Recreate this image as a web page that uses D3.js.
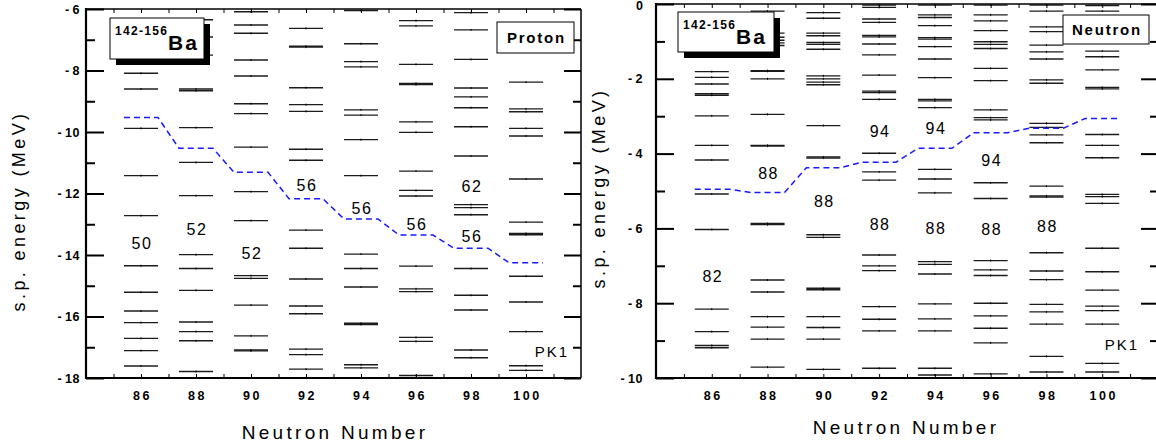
<!DOCTYPE html>
<html><head><meta charset="utf-8">
<script src="https://cdn.jsdelivr.net/npm/d3@7"></script>
<style>
body{margin:0;background:#fff}
svg{display:block}
text{font-family:"Liberation Sans",Arial,Helvetica,sans-serif;fill:#000}
</style>
</head><body>
<svg id="chart" width="1156" height="446"></svg>
<script>
// ---------------- data ----------------
const neutronNumbers = [86, 88, 90, 92, 94, 96, 98, 100];
const xTickLabels = ["86", "88", "90", "92", "94", "96", "98", "100"];
const protonYTicks = [-18, -16, -14, -12, -10, -8, -6];
const neutronYTicks = [-10, -8, -6, -4, -2, 0];

// proton single-particle levels (MeV), one list per neutron number
const protonLevels = [
  [-8.09, -8.60, -9.88, -11.42, -12.72, -14.35, -15.21, -15.82, -16.20, -16.71, -17.11, -17.61],
  [-6.35, -6.91, -7.50, -8.60, -8.66, -9.86, -10.99, -12.07, -13.99, -14.44, -15.15, -16.18, -16.49, -16.79, -17.79],
  [-6.09, -6.52, -6.79, -7.66, -8.18, -9.08, -9.40, -10.49, -11.94, -12.88, -14.67, -14.76, -15.63, -16.63, -17.09, -17.12],
  [-6.63, -7.21, -7.24, -8.56, -9.11, -9.33, -10.56, -10.92, -13.19, -13.78, -14.78, -15.66, -15.91, -17.06, -17.24, -17.71],
  [-6.05, -7.13, -7.71, -7.88, -9.28, -9.45, -10.25, -11.42, -13.97, -14.44, -15.04, -16.22, -16.26, -17.57, -17.67],
  [-6.38, -6.55, -7.80, -8.42, -8.46, -9.67, -10.01, -11.27, -11.90, -12.08, -14.36, -15.10, -15.19, -16.68, -16.81, -17.92],
  [-6.12, -6.68, -7.64, -8.57, -8.86, -9.21, -9.83, -10.78, -12.36, -12.46, -12.69, -14.44, -15.31, -15.79, -17.09, -17.34],
  [-8.38, -9.25, -9.34, -9.88, -10.13, -11.53, -12.93, -13.30, -13.34, -14.69, -15.53, -16.49, -17.60, -17.75]
];
// neutron single-particle levels (MeV)
const neutronLevels = [
  [-1.81, -1.96, -2.14, -2.40, -2.44, -2.99, -3.78, -4.17, -5.08, -6.03, -8.16, -8.76, -9.13, -9.19],
  [-0.19, -0.78, -0.89, -0.97, -1.04, -1.11, -1.78, -1.80, -2.00, -2.95, -3.78, -3.80, -5.87, -5.90, -7.38, -7.70, -8.36, -8.64, -8.96, -9.71],
  [-0.23, -0.38, -0.78, -0.85, -1.03, -1.08, -1.21, -1.92, -2.00, -2.09, -2.16, -3.25, -4.09, -4.12, -6.17, -6.24, -7.60, -7.64, -8.36, -8.65, -8.96, -9.77],
  [-0.03, -0.09, -0.40, -0.49, -0.84, -0.88, -1.07, -1.36, -1.90, -2.33, -2.37, -2.55, -3.99, -4.49, -4.71, -6.71, -7.00, -7.13, -8.09, -8.43, -8.74, -9.74],
  [-0.03, -0.29, -0.36, -0.58, -0.90, -0.94, -1.14, -1.47, -1.97, -2.55, -2.59, -2.77, -4.42, -4.68, -5.05, -6.89, -6.96, -7.22, -8.02, -8.42, -8.74, -9.74, -9.92],
  [-0.03, -0.29, -0.45, -0.71, -1.01, -1.08, -1.19, -1.72, -2.05, -2.83, -3.04, -3.10, -4.78, -5.20, -6.86, -7.11, -7.26, -8.00, -8.34, -8.67, -9.06, -9.89],
  [-0.03, -0.19, -0.61, -0.74, -1.10, -1.28, -1.47, -2.03, -2.12, -3.19, -3.30, -3.50, -3.71, -4.87, -5.13, -5.16, -6.65, -7.14, -7.37, -8.03, -8.23, -8.56, -9.42, -9.84],
  [-0.04, -0.19, -1.26, -1.41, -1.76, -2.23, -2.27, -3.49, -3.78, -4.11, -5.09, -5.15, -5.33, -6.53, -7.16, -7.65, -8.08, -8.20, -8.56, -9.61, -9.84]
];
// Fermi levels (dashed blue)
const protonFermi = [-9.53, -10.53, -11.31, -12.17, -12.83, -13.35, -13.78, -14.25];
const neutronFermi = [-4.95, -5.04, -4.38, -4.23, -3.86, -3.44, -3.32, -3.06];
// shell-gap labels: neutron number, energy, text
const protonGapN = [86, 88, 90, 92, 94, 96, 98, 98];
const protonGapE = [-13.60, -13.16, -13.93, -11.72, -12.46, -13.00, -11.76, -13.38];
const protonGapText = ["50", "52", "52", "56", "56", "56", "62", "56"];
const neutronGapN = [86, 88, 90, 92, 92, 94, 94, 96, 96, 98];
const neutronGapE = [-7.27, -4.51, -5.27, -3.40, -5.88, -3.32, -6.00, -4.17, -6.02, -5.94];
const neutronGapText = ["82", "88", "88", "94", "88", "94", "88", "94", "88", "88"];

// ---------------- drawing ----------------
const svg = d3.select("#chart");

function drawPanel(o) {
  const g = svg.append("g");
  const x = d3.scaleLinear().domain([84, 102]).range([o.x0, o.x1]);
  const y = d3.scaleLinear().domain(o.yDomain).range([o.yBottom, o.yTop]);
  const hw = 17;

  // levels
  o.levels.forEach((lv, i) => {
    const n = neutronNumbers[i];
    g.append("g").selectAll("line").data(lv).join("line")
      .attr("x1", x(n) - hw).attr("x2", x(n) + hw)
      .attr("y1", d => y(d)).attr("y2", d => y(d))
      .attr("stroke", "#1c1c1c").attr("stroke-width", 1.35);
    g.append("g").selectAll("line").data(lv).join("line")
      .attr("x1", x(n)).attr("x2", x(n))
      .attr("y1", d => y(d) - 1).attr("y2", d => y(d) + 1)
      .attr("stroke", "#000").attr("stroke-width", 1);
  });

  // Fermi line
  const pts = [];
  o.fermi.forEach((f, i) => {
    const n = neutronNumbers[i];
    pts.push([x(n) - hw, y(f)], [x(n) + hw, y(f)]);
  });
  g.append("path").attr("d", d3.line()(pts))
    .attr("fill", "none").attr("stroke", "#1a1aff").attr("stroke-width", 1.5)
    .attr("stroke-dasharray", "6,4");

  // gap labels
  o.gapN.forEach((n, i) => {
    g.append("text").attr("x", x(n) + 1).attr("y", y(o.gapE[i]) + 6)
      .attr("text-anchor", "middle").attr("font-size", 16).attr("letter-spacing", 1.5)
      .text(o.gapText[i]);
  });

  // frame
  const yT = o.yTop, yB = o.yBottom;
  g.append("line").attr("x1", o.x0).attr("x2", o.x1).attr("y1", yT).attr("y2", yT).attr("stroke", "#000").attr("stroke-width", 1.5);
  g.append("line").attr("x1", o.x1).attr("x2", o.x1).attr("y1", yT).attr("y2", yB).attr("stroke", "#000").attr("stroke-width", 1.5);
  g.append("line").attr("x1", o.x0).attr("x2", o.x0).attr("y1", yT - 1).attr("y2", yB + 1).attr("stroke", "#000").attr("stroke-width", 2.2);
  g.append("line").attr("x1", o.x0 - 1).attr("x2", o.x1).attr("y1", yB).attr("y2", yB).attr("stroke", "#000").attr("stroke-width", 2.2);

  // y ticks (inward) left and right
  const yMinor = d3.range(o.yDomain[0] + 1, o.yDomain[1], 2);
  const leftMaj = d3.axisLeft(y).tickValues(o.yTicks).tickSize(-18).tickFormat("");
  const leftMin = d3.axisLeft(y).tickValues(yMinor).tickSize(-9).tickFormat("");
  const rightMaj = d3.axisRight(y).tickValues(o.yTicks).tickSize(-17).tickFormat("");
  const rightMin = d3.axisRight(y).tickValues(yMinor).tickSize(-8).tickFormat("");
  [[leftMaj, o.x0], [leftMin, o.x0], [rightMaj, o.x1], [rightMin, o.x1]].forEach(([ax, tx]) => {
    const a = g.append("g").attr("transform", `translate(${tx},0)`).call(ax);
    a.select(".domain").remove();
    a.selectAll("line").attr("stroke-width", 2);
  });
  // x ticks (small, inward) bottom and top
  const xAll = d3.range(85, 102, 1);
  const bAx = d3.axisBottom(x).tickValues(xAll).tickSize(-4).tickFormat("");
  const tAx = d3.axisTop(x).tickValues(xAll).tickSize(-4).tickFormat("");
  [[bAx, yB], [tAx, yT]].forEach(([ax, ty]) => {
    const a = g.append("g").attr("transform", `translate(0,${ty})`).call(ax);
    a.select(".domain").remove();
    a.selectAll("line").attr("stroke-width", 1);
  });

  // y tick labels
  o.yTicks.forEach(v => {
    const yy = Math.max(y(v) + 4.5, 10);
    const t = g.append("text").attr("x", o.x0 - o.labelPad).attr("y", yy)
      .attr("text-anchor", "end").attr("font-size", 12.5).attr("font-weight", "bold");
    if (v < 0) {
      t.append("tspan").text("-");
      t.append("tspan").attr("dx", 3.5).attr("letter-spacing", 0.5).text(String(-v));
    } else {
      t.text(String(v));
    }
  });
  // x tick labels
  neutronNumbers.forEach((n, i) => {
    g.append("text").attr("x", x(n) + 1.5).attr("y", yB + 22)
      .attr("text-anchor", "middle").attr("font-size", 12.5).attr("font-weight", "bold")
      .attr("letter-spacing", 2.5).text(xTickLabels[i]);
  });

  // axis titles
  g.append("text").attr("transform", `translate(${o.yTitleX},${o.yTitleY}) rotate(-90)`)
    .attr("text-anchor", "middle").attr("font-size", 18).attr("letter-spacing", 3.4)
    .text("s.p. energy (MeV)");
  g.append("text").attr("x", o.xTitleX).attr("y", o.xTitleY)
    .attr("text-anchor", "middle").attr("font-size", 19).attr("letter-spacing", 3.3)
    .text("Neutron Number");

  // nucleus legend with shadow
  const L = o.legend;
  g.append("rect").attr("x", L.x + 6).attr("y", L.y + 6).attr("width", L.w).attr("height", L.h).attr("fill", "#000");
  g.append("rect").attr("x", L.x).attr("y", L.y).attr("width", L.w).attr("height", L.h)
    .attr("fill", "#fff").attr("stroke", "#000").attr("stroke-width", 1);
  g.append("text").attr("x", L.x + 5).attr("y", L.y + 17).attr("font-weight", "bold")
    .attr("font-size", 12).attr("letter-spacing", 1.3).text("142-156");
  g.append("text").attr("x", L.x + 58).attr("y", L.y + 32).attr("font-weight", "bold")
    .attr("font-size", 21).attr("letter-spacing", 2).text("Ba");

  // particle box
  const P = o.pbox;
  g.append("rect").attr("x", P.x).attr("y", P.y).attr("width", P.w).attr("height", P.h)
    .attr("fill", "#fff").attr("stroke", "#000").attr("stroke-width", 1);
  g.append("text").attr("x", P.x + P.w / 2 + 1).attr("y", P.y + P.h / 2 + 5.5)
    .attr("text-anchor", "middle").attr("font-size", 15).attr("font-weight", "bold")
    .attr("letter-spacing", 1.8).text(o.particle);

  // PK1
  g.append("text").attr("x", o.pk1X).attr("y", o.pk1Y).attr("text-anchor", "end")
    .attr("font-size", 15).attr("letter-spacing", 2).text("PK1");
}

drawPanel({
  x0: 86, x1: 581, yTop: 9, yBottom: 378, yDomain: [-18, -6], yTicks: protonYTicks,
  levels: protonLevels, fermi: protonFermi,
  gapN: protonGapN, gapE: protonGapE, gapText: protonGapText,
  labelPad: 6, yTitleX: 25, yTitleY: 211, xTitleX: 335, xTitleY: 439,
  legend: {x: 110, y: 18, w: 94, h: 41},
  pbox: {x: 497, y: 22, w: 77, h: 31}, particle: "Proton",
  pk1X: 569, pk1Y: 357
});
drawPanel({
  x0: 656, x1: 1158, yTop: 4, yBottom: 378, yDomain: [-10, 0], yTicks: neutronYTicks,
  levels: neutronLevels, fermi: neutronFermi,
  gapN: neutronGapN, gapE: neutronGapE, gapText: neutronGapText,
  labelPad: 13, yTitleX: 605, yTitleY: 188, xTitleX: 906, xTitleY: 434,
  legend: {x: 678, y: 12, w: 96, h: 40},
  pbox: {x: 1063, y: 15, w: 86, h: 29}, particle: "Neutron",
  pk1X: 1139, pk1Y: 350
});
</script>
</body></html>
